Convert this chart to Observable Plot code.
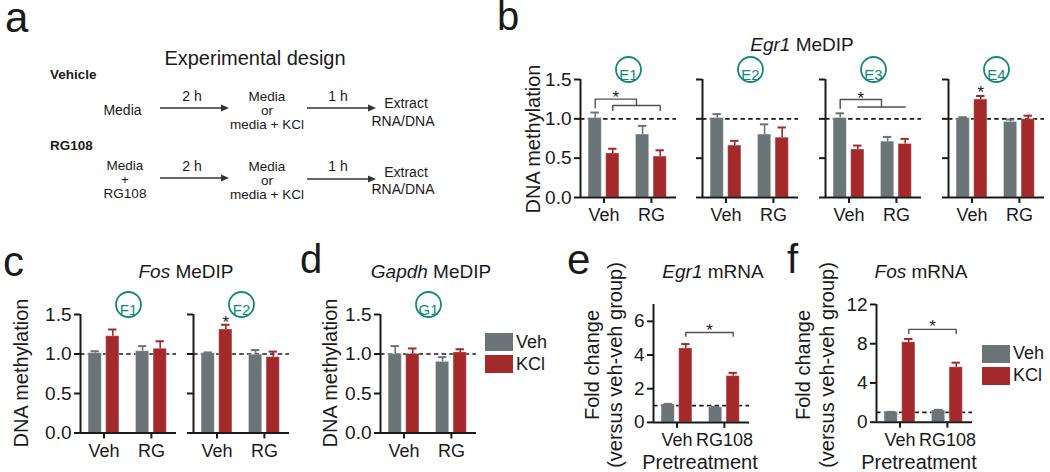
<!DOCTYPE html>
<html>
<head>
<meta charset="utf-8">
<script src="https://cdn.jsdelivr.net/npm/d3@7"></script>
<script src="https://cdn.jsdelivr.net/npm/@observablehq/plot@0.6"></script>
<style>
  html, body { margin: 0; padding: 0; background: #fff; }
  #fig { position: relative; width: 1050px; height: 472px; overflow: hidden; background: #fff;
         font-family: 'Liberation Sans', Arial, Helvetica, sans-serif; color: #1a1a1a; }
  .slot { position: absolute; }
  #fig .lg-swatch { line-height: 21px; padding-bottom: 1px; }
  #fig .lg-swatch > svg { margin-right: 3px; }
  #overlay { position: absolute; left: 0; top: 0; pointer-events: none; }
</style>
</head>
<body>
<div id="fig"></div>
<script>
// ---------------- data ----------------
const pretreatDNA = ["Veh", "RG"];          // x-axis groups, MeDIP panels
const pretreatRNA = ["Veh", "RG108"];       // x-axis groups, mRNA panels
const treatments = ["Veh", "KCl"];          // bar colours / legend

const dnaRegions   = ["E1", "E2", "E3", "E4", "F1", "F2", "G1"];
const dnaVehVeh    = [1.01, 1.01, 1.01, 1.01, 1.01, 1.01, 1.00];
const dnaVehVehErr = [0.07, 0.05, 0.06, 0.01, 0.025, 0.01, 0.10];
const dnaVehKcl    = [0.56, 0.66, 0.61, 1.245, 1.225, 1.31, 1.00];
const dnaVehKclErr = [0.06, 0.06, 0.05, 0.045, 0.085, 0.06, 0.07];
const dnaRgVeh     = [0.80, 0.80, 0.71, 0.96, 1.035, 0.99, 0.90];
const dnaRgVehErr  = [0.11, 0.13, 0.06, 0.03, 0.065, 0.06, 0.06];
const dnaRgKcl     = [0.52, 0.76, 0.68, 0.995, 1.066, 0.96, 1.02];
const dnaRgKclErr  = [0.08, 0.13, 0.065, 0.045, 0.095, 0.07, 0.04];

const mrnaGenes     = ["Egr1", "Fos"];
const mrnaVehVeh    = [1.07, 1.02];
const mrnaVehVehErr = [0.03, 0.03];
const mrnaVehKcl    = [4.39, 8.14];
const mrnaVehKclErr = [0.26, 0.34];
const mrnaRgVeh     = [0.89, 1.20];
const mrnaRgVehErr  = [0.03, 0.06];
const mrnaRgKcl     = [2.75, 5.60];
const mrnaRgKclErr  = [0.19, 0.47];

const dnaTicks  = [0, 0.5, 1, 1.5];
const egr1Ticks = [0, 2, 4, 6];
const fosTicks  = [0, 4, 8, 12];

// ---------------- styling ----------------
const GRAY = "#6b7477", RED = "#a3292b", TEAL = "#13897b", INK = "#1a1a1a", BRK = "#505050";
const FONT = "'Liberation Sans', Arial, Helvetica, sans-serif";
const GEOM = {step: 47.4, first: 23.5, frameW: 96, off: 8.8, half: 6.6, cap: 4.2};
const fig = document.getElementById("fig");

function rowsFor(i, vv, vvE, vk, vkE, rv, rvE, rk, rkE) {
  return [
    {g: 0, t: "Veh", mean: vv[i], err: vvE[i]},
    {g: 0, t: "KCl", mean: vk[i], err: vkE[i]},
    {g: 1, t: "Veh", mean: rv[i], err: rvE[i]},
    {g: 1, t: "KCl", mean: rk[i], err: rkE[i]}
  ];
}

function place(el, left, top, w, h) {
  const d = document.createElement("div");
  d.className = "slot";
  d.style.left = left + "px"; d.style.top = top + "px";
  if (w) d.style.width = w + "px";
  if (h) d.style.height = h + "px";
  d.appendChild(el);
  fig.appendChild(d);
}

function bracket(k, xa, xb, y, ya, yb) {
  return [{k, x: xa, y: ya}, {k, x: xa, y}, {k, x: xb, y}, {k, x: xb, y: yb}];
}

function panel(o) {
  const ML = 46, MR = 6, MT = 32, MB = 36;
  const frameH = o.yBottom - o.yTop;
  const W = ML + GEOM.frameW + MR, H = MT + frameH + MB;
  const u = 1 / GEOM.step;
  const xDom = [-GEOM.first * u, (GEOM.frameW - GEOM.first) * u];
  const bx = (g, t) => g + (t === "KCl" ? 1 : -1) * GEOM.off * u;
  const pos = d => bx(d.g, d.t);
  const top = d => d.mean + d.err;
  const marks = [
    Plot.ruleY([1], {stroke: INK, strokeWidth: 1.7, strokeDasharray: "4.5,3.2"}),
    Plot.rect(o.rows, {x1: d => pos(d) - GEOM.half * u, x2: d => pos(d) + GEOM.half * u,
                       y1: 0, y2: "mean", fill: "t", stroke: "#fff", strokeOpacity: 0.3, strokeWidth: 1}),
    Plot.ruleX(o.rows, {x: pos, y1: "mean", y2: top, stroke: "t", strokeWidth: 1.6}),
    Plot.ruleY(o.rows, {x1: d => pos(d) - GEOM.cap * u, x2: d => pos(d) + GEOM.cap * u, y: top,
                        stroke: "t", strokeWidth: 2}),
    Plot.ruleX([xDom[0]], {stroke: INK, strokeWidth: 2}),
    Plot.ruleY([0], {stroke: INK, strokeWidth: 2}),
    Plot.axisY({ticks: o.yTicks, tickFormat: o.yLabels ? o.yFormat : () => "", tickSize: 6,
                tickPadding: 3, strokeWidth: 2, label: null, fontSize: 19}),
    Plot.axisX({ticks: [0, 1], tickFormat: i => o.xLabels[i], tickSize: 6, tickPadding: 5,
                strokeWidth: 2, label: null, fontSize: 18})
  ];
  if (o.region) {
    marks.push(
      Plot.dot([o.region], {frameAnchor: "top", dy: -10, r: 12.5, stroke: TEAL, strokeWidth: 1.8, fill: "white"}),
      Plot.text([o.region], {frameAnchor: "top", dy: -10, text: d => d, fill: TEAL, fontSize: 15})
    );
  }
  if (o.sig) {
    const s = o.sig(bx);
    if (s.paths.length) marks.push(Plot.line(s.paths, {x: "x", y: "y", z: "k", stroke: BRK, strokeWidth: 1.4}));
    marks.push(Plot.text(s.stars, {x: "x", y: "y", text: () => "*", fontSize: 17, dy: 4, fill: INK}));
  }
  const svg = Plot.plot({
    width: W, height: H, marginLeft: ML, marginRight: MR, marginTop: MT, marginBottom: MB,
    x: {domain: xDom}, y: {domain: o.yDomain},
    color: {domain: treatments, range: [GRAY, RED]},
    style: {background: "transparent", fontFamily: FONT, fontSize: "17px", color: INK, overflow: "visible"},
    marks
  });
  place(svg, o.x0 - ML, o.yTop - MT, W, H);
}

// significance annotations (data units)
const sigNested = (yUp, legA, yLow, legLow, yStar) => bx => {
  const a = bx(0, "Veh"), b = bx(0, "KCl"), c = bx(1, "KCl"), m = (b + c) / 2;
  return {
    paths: [...bracket(0, a, m, yUp, legA, yLow), ...bracket(1, b, c, yLow, legLow, legLow)],
    stars: [{x: (a + m) / 2, y: yStar}]
  };
};
const sigAbove = yStar => bx => ({paths: [], stars: [{x: bx(0, "KCl"), y: yStar}]});
const sigKcl = (y, leg, yStar) => bx => {
  const b = bx(0, "KCl"), c = bx(1, "KCl");
  return {paths: bracket(0, b, c, y, leg, leg), stars: [{x: (b + c) / 2, y: yStar}]};
};

const dnaLayout = {
  E1: {x0: 580, yTop: 79, yBottom: 197, yLabels: true, sig: sigNested(1.25, 1.14, 1.17, 1.105, 1.32)},
  E2: {x0: 702, yTop: 79, yBottom: 197},
  E3: {x0: 825, yTop: 79, yBottom: 197, sig: sigNested(1.245, 1.13, 1.15, 1.15, 1.305)},
  E4: {x0: 948, yTop: 79, yBottom: 197, sig: sigAbove(1.39)},
  F1: {x0: 80, yTop: 314, yBottom: 432.5, yLabels: true},
  F2: {x0: 193, yTop: 314, yBottom: 432.5, sig: sigAbove(1.45)},
  G1: {x0: 380, yTop: 314, yBottom: 432.5, yLabels: true}
};

dnaRegions.forEach((r, i) => {
  const L = dnaLayout[r];
  panel({
    ...L, region: r,
    rows: rowsFor(i, dnaVehVeh, dnaVehVehErr, dnaVehKcl, dnaVehKclErr, dnaRgVeh, dnaRgVehErr, dnaRgKcl, dnaRgKclErr),
    yDomain: [0, 1.5], yTicks: dnaTicks, yFormat: d3.format(".1f"), xLabels: pretreatDNA
  });
});

const rnaLayout = {
  Egr1: {x0: 653, yTop: 304.4, yBottom: 422.3, yDomain: [0, 7], yTicks: egr1Ticks, sig: sigKcl(5.34, 5.12, 5.67)},
  Fos:  {x0: 876, yTop: 304, yBottom: 421.7, yDomain: [0, 12], yTicks: fosTicks, sig: sigKcl(9.46, 9.05, 10.13)}
};
mrnaGenes.forEach((gname, i) => {
  panel({
    ...rnaLayout[gname], yLabels: true, yFormat: d3.format("d"), xLabels: pretreatRNA,
    rows: rowsFor(i, mrnaVehVeh, mrnaVehVehErr, mrnaVehKcl, mrnaVehKclErr, mrnaRgVeh, mrnaRgVehErr, mrnaRgKcl, mrnaRgKclErr)
  });
});

// legends
function legend(left, top) {
  const lg = Plot.legend({
    color: {domain: treatments, range: [GRAY, RED]},
    legend: "swatches", columns: 1, swatchWidth: 28, swatchHeight: 18, className: "lg",
    style: {fontSize: "18px", fontFamily: FONT, color: INK, background: "transparent"}
  });
  place(lg, left, top, 70);
}
legend(485, 331.5);
legend(982, 343);

// ---------------- text overlay + experimental design ----------------
const t = (s, x, y, size, anchor = "start", extra = "") =>
  `<text x="${x}" y="${y}" font-size="${size}" text-anchor="${anchor}" ${extra}>${s}</text>`;
const vt = (s, x, y, size) =>
  `<text transform="translate(${x},${y}) rotate(-90)" font-size="${size}" text-anchor="middle">${s}</text>`;
const arrow = (x1, x2, y) =>
  `<line x1="${x1}" y1="${y}" x2="${x2 - 7}" y2="${y}" stroke="#333" stroke-width="1.3"/>` +
  `<path d="M${x2},${y} L${x2 - 8},${y - 3.5} L${x2 - 8},${y + 3.5} Z" fill="#333"/>`;
const it = s => `<tspan font-style="italic">${s}</tspan>`;
const FS = 13.5;

const parts = [
  // panel letters
  t("a", 5, 32, 42), t("b", 497, 30, 40), t("c", 3, 276, 42), t("d", 300, 273, 40),
  t("e", 567, 274, 42), t("f", 787, 273, 40),
  // panel a
  t("Experimental design", 255, 65, 20, "middle"),
  t("Vehicle", 50, 79, 13.5, "start", 'font-weight="bold"'),
  t("RG108", 50, 150, 13.5, "start", 'font-weight="bold"'),
  t("Media", 122.5, 115, 14, "middle"),
  t("2 h", 192, 101, 14, "middle"), arrow(160, 229, 108),
  t("Media", 267, 101, FS, "middle"), t("or", 267, 115, FS, "middle"), t("media + KCl", 267, 129, FS, "middle"),
  t("1 h", 338, 101, 14, "middle"), arrow(307, 376, 108),
  t("Extract", 406, 108, 14, "middle"), t("RNA/DNA", 403, 126, 14, "middle"),
  t("Media", 125, 169.5, FS, "middle"), t("+", 125, 183.5, FS, "middle"), t("RG108", 125, 197.5, FS, "middle"),
  t("2 h", 192, 171, 14, "middle"), arrow(160, 229, 178),
  t("Media", 267, 171, FS, "middle"), t("or", 267, 185, FS, "middle"), t("media + KCl", 267, 199, FS, "middle"),
  t("1 h", 338, 171, 14, "middle"), arrow(307, 376, 179),
  t("Extract", 406, 177, 14, "middle"), t("RNA/DNA", 403, 193.5, 14, "middle"),
  // titles
  t(`${it("Egr1")} MeDIP`, 802, 51, 19, "middle"),
  t(`${it("Fos")} MeDIP`, 186, 278, 19, "middle"),
  t(`${it("Gapdh")} MeDIP`, 431, 278, 19, "middle"),
  t(`${it("Egr1")} mRNA`, 713, 278, 19, "middle"),
  t(`${it("Fos")} mRNA`, 921, 278, 19, "middle"),
  // y-axis titles
  vt("DNA methylation", 540, 139, 20),
  vt("DNA methylation", 28, 373, 20),
  vt("DNA methylation", 337, 373, 20),
  vt("Fold change", 599, 365, 20), vt("(versus veh-veh group)", 622, 365, 20),
  vt("Fold change", 810, 365, 20), vt("(versus veh-veh group)", 834, 365, 20),
  // x-axis titles
  t("Pretreatment", 700, 469, 20, "middle"),
  t("Pretreatment", 919, 469, 20, "middle")
];
const ov = document.createElement("div");
ov.innerHTML = `<svg id="overlay" width="1050" height="472" viewBox="0 0 1050 472" font-family="${FONT.replace(/'/g, "")}" fill="${INK}">${parts.join("")}</svg>`;
fig.appendChild(ov.firstChild);
</script>
</body>
</html>
